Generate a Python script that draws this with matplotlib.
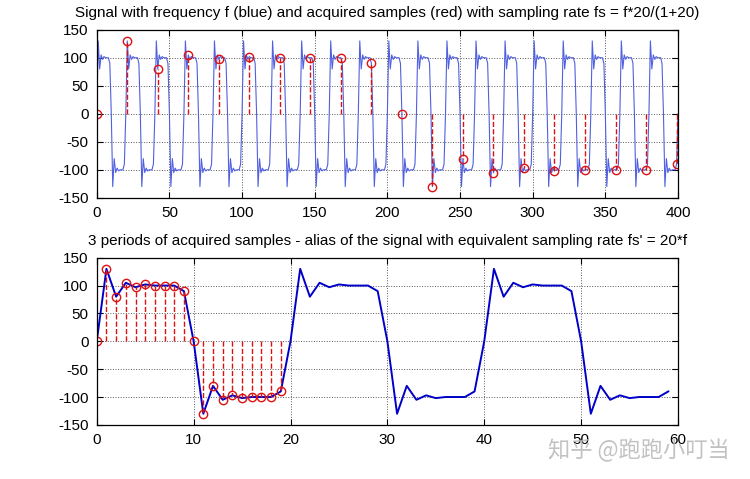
import numpy as np
import matplotlib
matplotlib.use("Agg")
import matplotlib.pyplot as plt

# one period of the signal (20 points per period)
period = [0, 130, 80, 105, 97, 102, 100, 100, 100, 90,
          0, -130, -80, -105, -97, -102, -100, -100, -100, -90]
n_periods_top = 20
n_periods_bottom = 3
step = 21  # sampling step on the top plot

signal = np.append(np.tile(period, n_periods_top), period[0])
x_sig = np.arange(len(signal))
x_smp = np.arange(0, 400, step)
y_smp = signal[x_smp]

alias = np.tile(period, n_periods_bottom)
x_alias = np.arange(len(alias))

plt.rcParams['font.family'] = ['Liberation Sans', 'DejaVu Sans']
plt.rcParams['axes.unicode_minus'] = False

fig = plt.figure(figsize=(7.5, 4.79), dpi=100)
ax1 = fig.add_axes([0.129, 0.587, 0.775, 0.351])
ax2 = fig.add_axes([0.129, 0.113, 0.775, 0.349])

red = '#dd1111'

ax1.plot(x_sig, signal, color='#5060e0', lw=0.8)
ax1.vlines(x_smp, 0, y_smp, colors=red, linestyles='--', lw=1)
ax1.plot(x_smp, y_smp, 'o', mfc='none', mec=red, ms=6, mew=1)
ax1.set_xlim(0, 400)
ax1.set_xticks(np.arange(0, 401, 50))
ax1.set_title("Signal with frequency f (blue) and acquired samples (red) with sampling rate fs = f*20/(1+20)",
              fontsize=11, pad=9)

ax2.plot(x_alias, alias, color='#0000c8', lw=1.4)
ax2.vlines(x_alias[:20], 0, alias[:20], colors=red, linestyles='--', lw=1)
ax2.plot(x_alias[:20], alias[:20], 'o', mfc='none', mec=red, ms=6, mew=1)
ax2.set_xlim(0, 60)
ax2.set_xticks(np.arange(0, 61, 10))
ax2.set_title("3 periods of acquired samples - alias of the signal with equivalent sampling rate fs' = 20*f",
              fontsize=11, pad=9)

for ax in (ax1, ax2):
    ax.set_ylim(-150, 150)
    ax.set_yticks(np.arange(-150, 151, 50))
    ax.grid(True, ls=':', color='0.35', lw=0.7)
    ax.tick_params(direction='in', top=True, right=True, length=4, labelsize=11, pad=6)
    for s in ax.spines.values():
        s.set_linewidth(0.9)

fig.text(0.973, 0.06, "知乎 @跑跑小叮当", ha='right', va='center', fontsize=16,
         color='#b8b8b8', alpha=0.85, family=['Noto Sans CJK SC', 'DejaVu Sans'])

fig.savefig("out.png", dpi=100)
